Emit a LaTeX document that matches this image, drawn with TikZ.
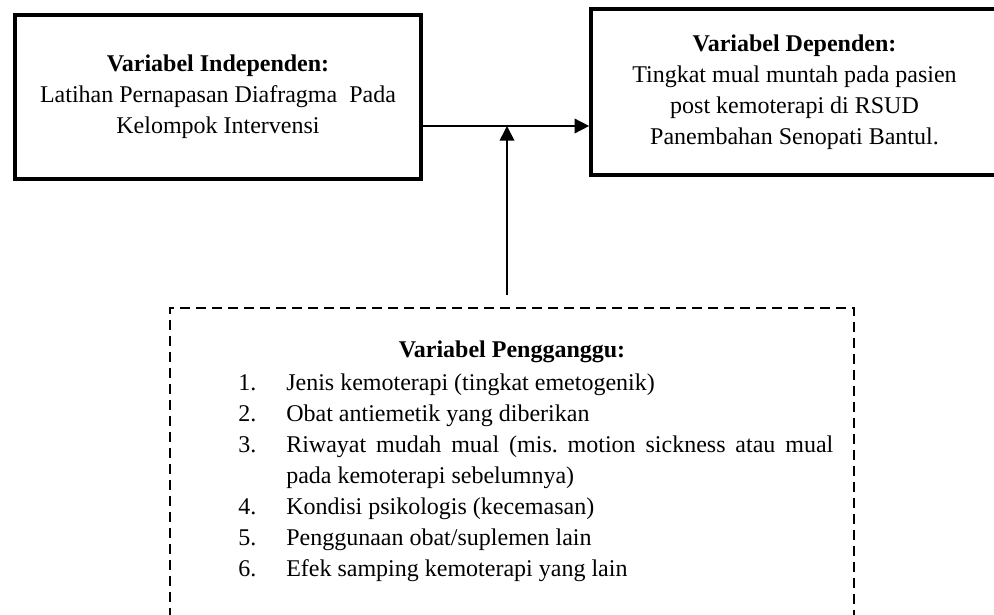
\documentclass[tikz,border=0pt]{standalone}
\usepackage{fontspec}
\setmainfont{Liberation Serif}
\usetikzlibrary{arrows.meta}
\newcommand{\butir}[2]{\hangindent=36pt\hangafter=1\makebox[36pt][l]{#1}#2\par}
\tikzset{
  kotak/.style={draw, line width=3pt, align=center, inner sep=0pt},
  kotakputus/.style={draw, line width=1.5pt, dash pattern=on 7.5pt off 4.5pt, inner sep=0pt},
  panah/.style={line width=1.2pt, -{Triangle[length=11pt,width=11pt]}}
}
\begin{document}
\begin{tikzpicture}[x=0.75pt,y=-0.75pt,font=\fontsize{18}{23.3}\selectfont]
  \useasboundingbox (0,0) rectangle (994,614);
  \clip (0,0) rectangle (994,614);
  \node[kotak, minimum width=304.5pt, minimum height=123pt] (indep) at (218,97)
    {\textbf{Variabel Independen:}\\ Latihan Pernapasan Diafragma\ \ Pada\\ Kelompok Intervensi};
  \node[kotak, minimum width=305pt, minimum height=124.5pt] (dep) at (794.5,92)
    {\textbf{Variabel Dependen:}\\ Tingkat mual muntah pada pasien\\ post kemoterapi di RSUD\\ Panembahan Senopati Bantul.};
  \node[kotakputus, minimum width=513pt, minimum height=249pt] (ganggu) at (512,474) {};
  \node[anchor=base, inner sep=0pt] (judul) at (512,357) {\textbf{Variabel Pengganggu:}};
  \node[anchor=base west, inner sep=0pt, text width=446.25pt, align=justify] (daftar) at (238,390) {%
    \butir{1.}{Jenis kemoterapi (tingkat emetogenik)}
    \butir{2.}{Obat antiemetik yang diberikan}
    \butir{3.}{Riwayat mudah mual (mis.\ motion sickness atau mual\linebreak pada kemoterapi sebelumnya)}
    \butir{4.}{Kondisi psikologis (kecemasan)}
    \butir{5.}{Penggunaan obat/suplemen lain}
    \butir{6.}{Efek samping kemoterapi yang lain}};
  \coordinate (jalur) at (0,126);
  \coordinate (pangkal) at (507,295);
  \draw[panah] (indep.east |- jalur) -- (dep.west |- jalur);
  \draw[panah] (pangkal) -- (pangkal |- jalur);
\end{tikzpicture}
\end{document}
